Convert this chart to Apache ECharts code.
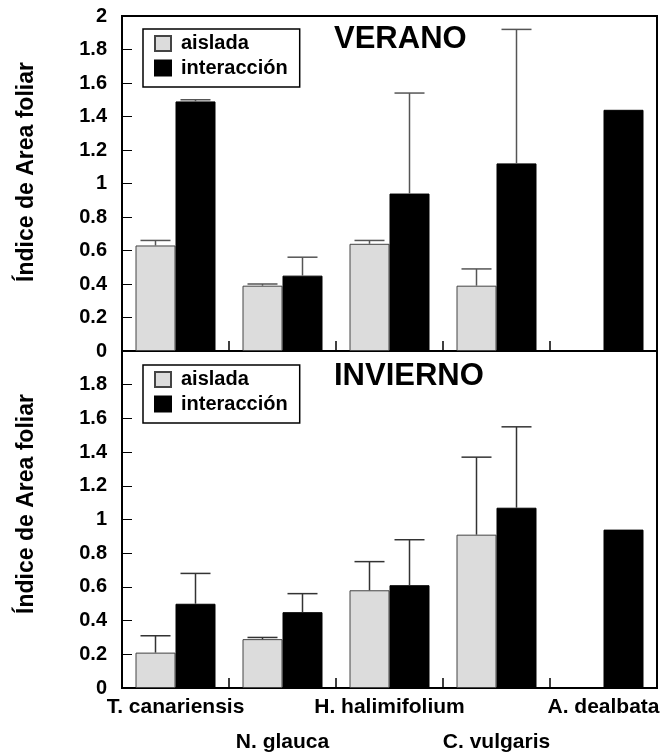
<!DOCTYPE html>
<html>
<head>
<meta charset="utf-8">
<script src="https://cdn.jsdelivr.net/npm/echarts@6/dist/echarts.min.js"></script>
<style>
html,body{margin:0;padding:0;background:#fff;}
#chart{width:660px;height:755px;}
</style>
</head>
<body>
<div id="chart"></div>
<script>
// ---- data ----
var categories = ['T. canariensis', 'N. glauca', 'H. halimifolium', 'C. vulgaris', 'A. dealbata'];
var yTicks = [0, 0.2, 0.4, 0.6, 0.8, 1, 1.2, 1.4, 1.6, 1.8, 2];
var seriesNames = ['aislada', 'interacción'];
var panelTitles = ['VERANO', 'INVIERNO'];
var yTitle = 'Índice de Area foliar';

var veranoAislada      = [0.63, 0.39, 0.64, 0.39, null];
var veranoAisladaErr   = [0.03, 0.01, 0.02, 0.10, null];
var veranoInter        = [1.49, 0.45, 0.94, 1.12, 1.44];
var veranoInterErr     = [0.01, 0.11, 0.60, 0.80, null];

var inviernoAislada    = [0.21, 0.29, 0.58, 0.91, null];
var inviernoAisladaErr = [0.10, 0.01, 0.17, 0.46, null];
var inviernoInter      = [0.50, 0.45, 0.61, 1.07, 0.94];
var inviernoInterErr   = [0.18, 0.11, 0.27, 0.48, null];

// ---- styling ----
var FF = '"Liberation Sans", Arial, Helvetica, sans-serif';
var GRAY = '#dcdcdc';

function errData(vals, errs) {
  var out = [];
  for (var i = 0; i < vals.length; i++) {
    if (vals[i] != null && errs[i] != null) out.push([i, vals[i], errs[i]]);
  }
  return out;
}
function makeErr(offset, color) {
  return function (params, api) {
    var i = api.value(0), v = api.value(1), e = api.value(2);
    var p0 = api.coord([i, v]);
    var p1 = api.coord([i, v + e]);
    var x = p0[0] + offset;
    return {
      type: 'group',
      children: [
        {type: 'line', shape: {x1: x, y1: p0[1], x2: x, y2: p1[1]}, style: {stroke: color, lineWidth: 1.5}},
        {type: 'line', shape: {x1: x - 15, y1: p1[1], x2: x + 15, y2: p1[1]}, style: {stroke: color, lineWidth: 1.5}}
      ]
    };
  };
}

var grids = [
  {left: 122, top: 16, width: 535, height: 335},
  {left: 122, top: 351, width: 535, height: 337}
];
grids.forEach(function (g) {
  g.show = true; g.borderColor = '#000'; g.borderWidth = 2; g.containLabel = false; g.outerBoundsMode = 'none';
});

function xAxisFor(gi, showLabels) {
  return {
    type: 'category', gridIndex: gi, data: categories,
    axisLine: {show: true, lineStyle: {color: '#000', width: 2}},
    axisTick: {show: true, inside: true, length: 10, lineStyle: {color: '#000', width: 1.5}},
    axisLabel: showLabels ? {
      show: true, interval: 0, margin: 2, color: '#000', fontFamily: FF, fontWeight: 'bold', fontSize: 21, lineHeight: 35,
      hideOverlap: false,
      formatter: function (v, idx) { return idx % 2 === 1 ? '\n' + v : v; }
    } : {show: false},
    splitLine: {show: false}
  };
}
function yAxisFor(gi, showMax) {
  return {
    type: 'value', gridIndex: gi, min: yTicks[0], max: yTicks[yTicks.length - 1], interval: 0.2,
    axisLine: {show: true, lineStyle: {color: '#000', width: 2}},
    axisTick: {show: true, inside: true, length: 10, lineStyle: {color: '#000', width: 1}},
    axisLabel: {show: true, margin: 15, color: '#000', fontFamily: FF, fontWeight: 'bold', fontSize: 20, showMaxLabel: showMax,
      formatter: function (v) { return String(Math.round(v * 10) / 10); }},
    splitLine: {show: false}
  };
}

function legendFor(top) {
  return {
    orient: 'vertical', left: 143, top: top, data: seriesNames,
    icon: 'rect', itemWidth: 16, itemHeight: 15, itemGap: 4.5,
    padding: [4.5, 12, 9, 11],
    borderColor: '#000', borderWidth: 1.5, backgroundColor: '#fff',
    selectedMode: false,
    textStyle: {fontFamily: FF, fontWeight: 'bold', fontSize: 20, color: '#000', lineHeight: 20, padding: [0, 0, 0, 5]}
  };
}

var aisStyle = {color: GRAY, borderColor: '#444', borderWidth: 1};
var intStyle = {color: '#000', borderColor: '#000', borderWidth: 1};

var option = {
  animation: false,
  backgroundColor: '#fff',
  grid: grids,
  xAxis: [xAxisFor(0, false), xAxisFor(1, true)],
  yAxis: [yAxisFor(0, true), yAxisFor(1, false)],
  legend: [legendFor(29), legendFor(365)],
  title: [
    {text: panelTitles[0], left: 334, top: 24, padding: 0, textStyle: {fontFamily: FF, fontWeight: 'bold', fontSize: 31, color: '#000'}},
    {text: panelTitles[1], left: 334, top: 361, padding: 0, textStyle: {fontFamily: FF, fontWeight: 'bold', fontSize: 31, color: '#000'}}
  ],
  graphic: [
    {type: 'text', x: 27, y: 172, rotation: Math.PI / 2,
     style: {text: yTitle, font: 'bold 23px ' + FF, fill: '#000', align: 'center', verticalAlign: 'middle'}},
    {type: 'text', x: 27, y: 504, rotation: Math.PI / 2,
     style: {text: yTitle, font: 'bold 23px ' + FF, fill: '#000', align: 'center', verticalAlign: 'middle'}}
  ],
  series: [
    {name: seriesNames[0], type: 'bar', xAxisIndex: 0, yAxisIndex: 0, data: veranoAislada, barWidth: 40, barGap: '0%', itemStyle: aisStyle},
    {name: seriesNames[1], type: 'bar', xAxisIndex: 0, yAxisIndex: 0, data: veranoInter, barWidth: 40, barGap: '0%', itemStyle: intStyle},
    {name: seriesNames[0], type: 'bar', xAxisIndex: 1, yAxisIndex: 1, data: inviernoAislada, barWidth: 40, barGap: '0%', itemStyle: aisStyle},
    {name: seriesNames[1], type: 'bar', xAxisIndex: 1, yAxisIndex: 1, data: inviernoInter, barWidth: 40, barGap: '0%', itemStyle: intStyle},
    {type: 'custom', xAxisIndex: 0, yAxisIndex: 0, z: 5, data: errData(veranoAislada, veranoAisladaErr), renderItem: makeErr(-20, '#555'), encode: {x: 0, y: 1}},
    {type: 'custom', xAxisIndex: 0, yAxisIndex: 0, z: 5, data: errData(veranoInter, veranoInterErr), renderItem: makeErr(20, '#555'), encode: {x: 0, y: 1}},
    {type: 'custom', xAxisIndex: 1, yAxisIndex: 1, z: 5, data: errData(inviernoAislada, inviernoAisladaErr), renderItem: makeErr(-20, '#333'), encode: {x: 0, y: 1}},
    {type: 'custom', xAxisIndex: 1, yAxisIndex: 1, z: 5, data: errData(inviernoInter, inviernoInterErr), renderItem: makeErr(20, '#333'), encode: {x: 0, y: 1}}
  ]
};

var chart = echarts.init(document.getElementById('chart'), null, {renderer: 'canvas'});
chart.setOption(option);
</script>
</body>
</html>
